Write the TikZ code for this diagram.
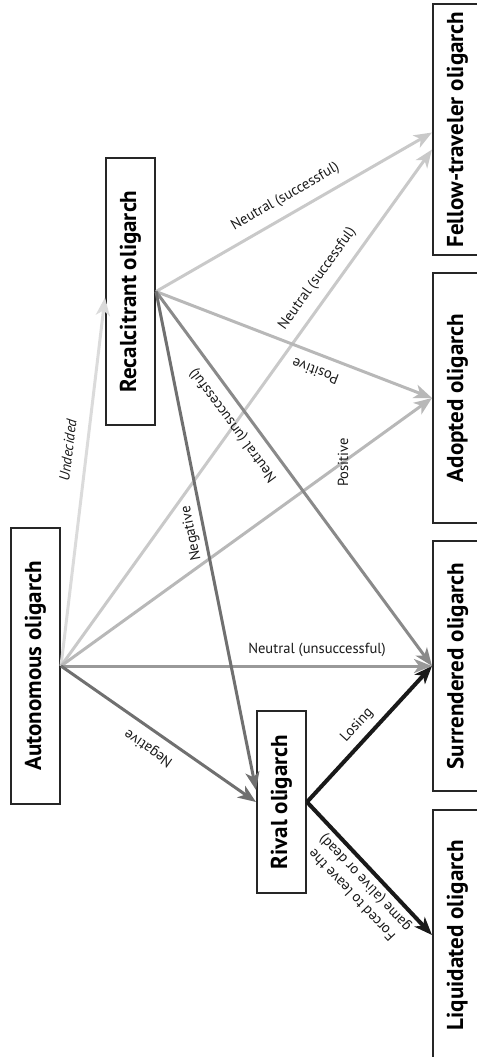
\documentclass[tikz,border=0pt]{standalone}
\usepackage{fontspec}
\setmainfont{PT Sans}
\usepackage{graphicx}
\usetikzlibrary{arrows.meta, positioning}
\definecolor{undecgray}{gray}{0.86}
\definecolor{neutralgray}{gray}{0.79}
\definecolor{posgray}{gray}{0.72}
\definecolor{unsucgray}{gray}{0.6}
\definecolor{neggray}{gray}{0.44}
\definecolor{rivalblack}{gray}{0.1}
\newcommand{\uptext}[1]{\rotatebox{90}{#1}}

\begin{document}
\begin{tikzpicture}[x=0.5pt, y=-0.5pt,
  stage/.style={draw=black!85, line width=1pt, minimum width=24.5pt, inner sep=0pt, font=\bfseries\fontsize{11.5}{13}\selectfont},
  move/.style={line width=1.5pt, -{Stealth[length=9pt, width=7pt, inset=2.5pt]}},
  tag/.style={font=\fontsize{7.3}{8.8}\selectfont, text=black!90, sloped, allow upside down, inner sep=0pt, align=center}]
  \useasboundingbox (0,0) rectangle (477,1057);
  \clip (0,0) rectangle (477,1057);

  \node[stage, minimum height=138pt] (aut) at (35.5,666) {\uptext{Autonomous oligarch}};
  \node[stage, minimum height=133.5pt] (rec) at (130.5,291.5) {\uptext{Recalcitrant oligarch}};
  \node[stage, minimum height=91pt] (riv) at (281.5,802) {\uptext{Rival oligarch}};
  \node[stage, minimum height=125.5pt] (fel) at (457.5,129.5) {\uptext{Fellow-traveler oligarch}};
  \node[stage, minimum height=125pt] (adop) at (457.5,398) {\uptext{Adopted oligarch}};
  \node[stage, minimum height=125pt] (surr) at (457.5,666) {\uptext{Surrendered oligarch}};
  \node[stage, minimum height=125pt] (liq) at (457.5,935) {\uptext{Liquidated oligarch}};

  \draw[move, undecgray] (aut.east) -- node[tag, pos=0.58, above=6pt, font=\fontsize{7.3}{8.8}\selectfont\itshape] {Undecided} ([yshift=-3pt]rec.west);
  \draw[move, neutralgray] (aut.east) -- node[tag, pos=0.73, above=4.7pt] {Neutral (successful)} ([yshift=-10pt]fel.west);
  \draw[move, neutralgray] (rec.east) -- node[tag, pos=0.5, above=4.5pt] {Neutral (successful)} ([yshift=-1.5pt]fel.west);
  \draw[move, posgray] (aut.east) -- node[pos=0.76, rotate=90, inner sep=0pt, text=black!90, font=\fontsize{7.3}{8.8}\selectfont] {Positive} (adop.west);
  \draw[move, posgray] (rec.east) -- (adop.west);
  \path (adop.west) -- node[tag, pos=0.4, above=5.7pt] {Positive} (rec.east);
  \draw[move, unsucgray] (aut.east) -- node[tag, pos=0.69, above=3.9pt] {Neutral (unsuccessful)} (surr.west);
  \draw[move, unsucgray!90!black] (rec.east) -- (surr.west);
  \path (surr.west) -- node[tag, pos=0.67, above=4.9pt] {Neutral (unsuccessful)} (rec.east);
  \draw[move, neggray] (aut.east) -- (riv.west);
  \path (riv.west) -- node[tag, pos=0.5, above=5pt] {Negative} (aut.east);
  \draw[move, neggray] (rec.east) -- ([yshift=6pt]riv.west);
  \path ([yshift=6pt]riv.west) -- node[tag, pos=0.52, above=2.8pt] {Negative} (rec.east);
  \draw[move, rivalblack, line width=2pt] (riv.east) -- node[tag, pos=0.49, above=3.2pt] {Losing} (surr.west);
  \draw[move, rivalblack, line width=2pt] (riv.east) -- (liq.west);
  \path (liq.west) -- node[tag, pos=0.46, above=2.5pt] {Forced to leave the\\game (alive or dead)} (riv.east);
\end{tikzpicture}
\end{document}
